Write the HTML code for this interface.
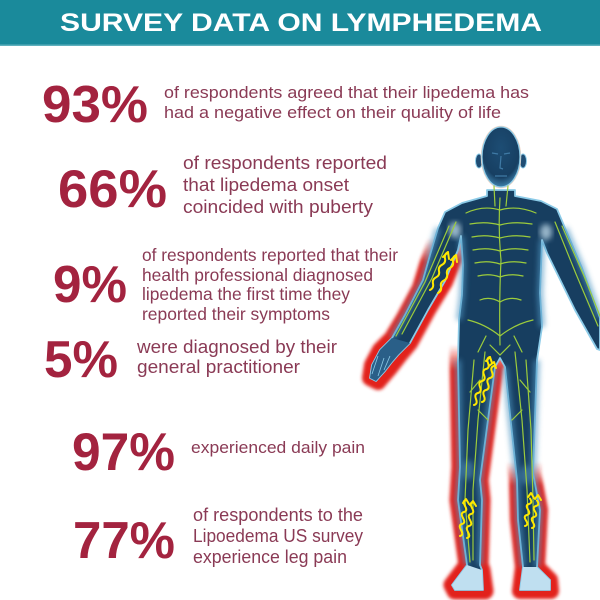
<!DOCTYPE html>
<html><head><meta charset="utf-8">
<style>
html,body{margin:0;padding:0;background:#fff;}
svg{display:block;}
.p{font-family:"Liberation Sans",Arial,sans-serif;font-weight:bold;fill:#a3233f;}
.t{font-family:"Liberation Sans",Arial,sans-serif;fill:#8a3a55;}
</style></head>
<body>
<svg width="600" height="600" viewBox="0 0 600 600" xmlns="http://www.w3.org/2000/svg">
<defs>
  <filter id="blur1" x="-20%" y="-20%" width="140%" height="140%"><feGaussianBlur stdDeviation="1.6"/></filter>
  <filter id="blur3" x="-20%" y="-20%" width="140%" height="140%"><feGaussianBlur stdDeviation="3"/></filter>
  <linearGradient id="fadeA" gradientUnits="userSpaceOnUse" x1="0" y1="238" x2="0" y2="262">
    <stop offset="0" stop-color="#000"/><stop offset="1" stop-color="#fff"/>
  </linearGradient>
  <linearGradient id="fadeL" gradientUnits="userSpaceOnUse" x1="0" y1="345" x2="0" y2="370">
    <stop offset="0" stop-color="#000"/><stop offset="1" stop-color="#fff"/>
  </linearGradient>
  <linearGradient id="fadeR" gradientUnits="userSpaceOnUse" x1="0" y1="462" x2="0" y2="485">
    <stop offset="0" stop-color="#000"/><stop offset="1" stop-color="#fff"/>
  </linearGradient>
  <mask id="mA" maskUnits="userSpaceOnUse" x="0" y="0" width="600" height="600"><rect x="0" y="0" width="600" height="600" fill="url(#fadeA)"/></mask>
  <mask id="mL" maskUnits="userSpaceOnUse" x="0" y="0" width="600" height="600"><rect x="0" y="0" width="600" height="600" fill="url(#fadeL)"/></mask>
  <mask id="mR" maskUnits="userSpaceOnUse" x="0" y="0" width="600" height="600"><rect x="0" y="0" width="600" height="600" fill="url(#fadeR)"/></mask>
  <radialGradient id="headg" cx="0.5" cy="0.35" r="0.7">
    <stop offset="0" stop-color="#1d4d74"/><stop offset="0.7" stop-color="#173f62"/><stop offset="1" stop-color="#4a95c2"/>
  </radialGradient>
</defs>

<!-- header -->
<rect x="0" y="0" width="600" height="46" fill="#1a8a9b"/>
<rect x="0" y="44.5" width="600" height="1.5" fill="#5fb0bd"/>
<text x="60" y="31" font-family="Liberation Sans, Arial, sans-serif" font-weight="bold" font-size="25" fill="#ffffff" textLength="482" lengthAdjust="spacingAndGlyphs">SURVEY DATA ON LYMPHEDEMA</text>

<!-- stats -->
<text class="p" x="42" y="122" font-size="52" textLength="106" lengthAdjust="spacingAndGlyphs">93%</text>
<text class="t" x="164" y="98" font-size="17" textLength="365" lengthAdjust="spacingAndGlyphs">of respondents agreed that their lipedema has</text>
<text class="t" x="164" y="118" font-size="17" textLength="337" lengthAdjust="spacingAndGlyphs">had a negative effect on their quality of life</text>

<text class="p" x="58" y="207" font-size="53" textLength="109" lengthAdjust="spacingAndGlyphs">66%</text>
<text class="t" x="183" y="169" font-size="18" textLength="204" lengthAdjust="spacingAndGlyphs">of respondents reported</text>
<text class="t" x="183" y="191" font-size="18" textLength="166" lengthAdjust="spacingAndGlyphs">that lipedema onset</text>
<text class="t" x="183" y="213" font-size="18" textLength="190" lengthAdjust="spacingAndGlyphs">coincided with puberty</text>

<text class="p" x="53" y="302" font-size="52" textLength="74" lengthAdjust="spacingAndGlyphs">9%</text>
<text class="t" x="142" y="261" font-size="17.5" textLength="256" lengthAdjust="spacingAndGlyphs">of respondents reported that their</text>
<text class="t" x="142" y="281" font-size="17.5" textLength="231" lengthAdjust="spacingAndGlyphs">health professional diagnosed</text>
<text class="t" x="142" y="300" font-size="17.5" textLength="208" lengthAdjust="spacingAndGlyphs">lipedema the first time they</text>
<text class="t" x="142" y="320" font-size="17.5" textLength="188" lengthAdjust="spacingAndGlyphs">reported their symptoms</text>

<text class="p" x="44" y="377" font-size="52" textLength="74" lengthAdjust="spacingAndGlyphs">5%</text>
<text class="t" x="137" y="353" font-size="18" textLength="200" lengthAdjust="spacingAndGlyphs">were diagnosed by their</text>
<text class="t" x="137" y="373" font-size="18" textLength="163" lengthAdjust="spacingAndGlyphs">general practitioner</text>

<text class="p" x="72" y="470" font-size="53" textLength="103" lengthAdjust="spacingAndGlyphs">97%</text>
<text class="t" x="191" y="453" font-size="17" textLength="174" lengthAdjust="spacingAndGlyphs">experienced daily pain</text>

<text class="p" x="73" y="558" font-size="52" textLength="102" lengthAdjust="spacingAndGlyphs">77%</text>
<text class="t" x="193" y="521" font-size="18" textLength="170" lengthAdjust="spacingAndGlyphs">of respondents to the</text>
<text class="t" x="193" y="542" font-size="18" textLength="170" lengthAdjust="spacingAndGlyphs">Lipoedema US survey</text>
<text class="t" x="193" y="563" font-size="18" textLength="154" lengthAdjust="spacingAndGlyphs">experience leg pain</text>

<!-- FIGURE -->
<!-- red swelling glows -->
<g filter="url(#blur1)">
  <g mask="url(#mA)">
  <path d="M438,235 L428,262 L420,288 L404,318 L392,338 L380,350 L372,365 L370,378 L378,382 L390,368 L400,355 L410,343 L428,310 L445,282 L458,250 L461,238 Z" fill="#e2231a" stroke="#e2231a" stroke-width="16" stroke-linejoin="round"/>
  </g>
  <g mask="url(#mL)">
  <path d="M459,330 L458,360 L460,467 L458,500 L467,565 L452,585 L455,591 L485,591 L482,570 L480,565 L482,500 L480,480 L495,367 L500,358 L500,330 Z" fill="#e2231a" stroke="#e2231a" stroke-width="17" stroke-linejoin="round"/>
  </g>
  <g mask="url(#mR)">
  <path d="M505,367 L517,480 L518,520 L523,567 L520,591 L551,591 L550,580 L537,567 L540,510 L533,473 L537,360 Z" fill="#e2231a" stroke="#e2231a" stroke-width="16" stroke-linejoin="round"/>
  </g>
</g>

<!-- body -->
<g id="body">
  <path d="M487,190 L487,196 L462,203 L445,212 L438,228 L430,255 L423,280 L405,315 L392,338 L380,350 L372,365 L370,378 L376,381 L385,371 L392,362 L398,355 L410,343 L428,310 L445,281 L458,250 L461,236 L463,265 L462,295 L459,320 L458,360 L460,467 L458,500 L467,565 L452,585 L455,590 L483,590 L482,570 L480,565 L482,500 L480,480 L495,367 L500,358 L505,367 L517,480 L518,520 L523,567 L520,590 L550,590 L550,580 L537,567 L540,510 L533,473 L537,360 L542,327 L540,293 L542,240 L547,253 L575,310 L597,349 L600,350 L600,318 L582,268 L565,228 L557,209 L541,201 L515,196 L515,190 Z" fill="#173e60" stroke="#8ccbe8" stroke-width="1.8" stroke-linejoin="round"/>
  <ellipse cx="479" cy="161" rx="3.5" ry="7" fill="#1f4d74" stroke="#8ccbe8" stroke-width="1"/>
  <ellipse cx="523" cy="161" rx="3.5" ry="7" fill="#1f4d74" stroke="#8ccbe8" stroke-width="1"/>
  <ellipse cx="501" cy="157" rx="19.5" ry="30.5" fill="none" stroke="#f0d6c6" stroke-width="1.5"/>
  <ellipse cx="501" cy="157" rx="19" ry="30" fill="url(#headg)" stroke="#8ccbe8" stroke-width="1.2"/>
  <!-- face hints -->
  <path d="M492,153 L498,154 M504,154 L510,153 M501,156 L500,168 L503,169 M495,176 L507,176" stroke="#3f7aa5" stroke-width="1.2" fill="none"/>
  <!-- inner glows -->
  <g filter="url(#blur3)" fill="none" stroke="#4f97c3" stroke-width="5" opacity="0.8">
    <path d="M438,228 L430,255 L423,280 L405,315 L392,338"/>
    <path d="M461,236 L463,265 L462,295 L459,320"/>
    <path d="M542,240 L540,293 L542,327"/>
    <path d="M458,360 L460,467 L458,500 L467,565"/>
    <path d="M537,360 L533,473 L540,510 L537,567"/>
    <path d="M495,367 L480,480 L482,500 L480,565"/>
    <path d="M505,367 L517,480 L518,520 L523,567"/>
    <path d="M565,228 L582,268 L600,318"/>
  </g>
  <!-- feet lighter -->
  <path d="M467,565 L452,585 L455,590 L483,590 L482,570 Z" fill="#bfdff0"/>
  <path d="M523,567 L520,590 L550,590 L550,580 L537,567 Z" fill="#bfdff0"/>
  <path d="M392,338 L380,350 L372,365 L370,378 L376,381 L385,371 L392,362 L398,355 L410,343 Z" fill="#2a5f88"/>
  <path d="M378,356 L372,374 M384,358 L378,376 M390,356 L384,370" stroke="#8ccbe8" stroke-width="0.8" fill="none"/>
  <ellipse cx="468" cy="470" rx="6" ry="10" fill="#5b9fc8" opacity="0.5" filter="url(#blur3)"/>
  <ellipse cx="526" cy="475" rx="6" ry="10" fill="#5b9fc8" opacity="0.5" filter="url(#blur3)"/>
  <ellipse cx="455" cy="230" rx="6" ry="8" fill="#cfe9f7" opacity="0.7" filter="url(#blur3)"/>
  <ellipse cx="546" cy="232" rx="6" ry="8" fill="#cfe9f7" opacity="0.7" filter="url(#blur3)"/>
</g>

<!-- lymph network -->
<g fill="none" stroke="#9ccc3c" stroke-width="1.2" stroke-linecap="round">
  <path d="M500,198 Q498,230 501,260 Q499,300 500,345"/>
  <path d="M494,186 L495,206 M508,186 L506,206"/>
  <path d="M466,213 Q483,205 500,210 Q517,205 536,213"/>
  <path d="M470,224 Q486,221 500,225 Q514,221 532,224"/>
  <path d="M472,237 Q486,234 500,238 Q514,234 530,237"/>
  <path d="M473,250 Q487,247 500,251 Q513,247 528,250"/>
  <path d="M475,263 Q488,260 500,264 Q512,260 526,263"/>
  <path d="M478,276 Q489,273 500,277 Q511,273 523,276"/>
  <path d="M480,300 Q490,296 500,302 Q510,296 521,300"/>
  <path d="M468,320 Q485,324 500,336 Q515,324 533,320"/>
  <path d="M486,336 L478,352 M514,336 L522,352 M490,345 L500,355 L510,345"/>
  <path d="M456,222 L432,278 L402,334 M449,226 L425,282 L396,336"/>
  <path d="M555,222 L576,274 L598,326 M562,226 L584,276 L600,316"/>
  <path d="M485,352 L478,420 L473,490 L473,560 M474,360 L468,430 L465,500 L470,562"/>
  <path d="M515,352 L522,420 L527,490 L530,562 M526,360 L531,430 L533,500 L534,560"/>
  <path d="M480,380 L470,392 M520,380 L530,392 M478,410 L488,420 M522,410 L512,420"/>
</g>

<!-- yellow flow arrows -->
<g fill="none" stroke="#ffe800" stroke-width="2" stroke-linecap="round" stroke-linejoin="round">
  <path d="M430,290 q4,-2 3,-6.3 t3,-6.3 t3,-6.3 t3,-6.3 t3,-6.3 t3,-6.3"/>
  <path d="M443,257 L448,252 L449,259"/>
  <path d="M438,293 q4,-2 3,-6.3 t3,-6.3 t3,-6.3 t3,-6.3 t3,-6.3 t3,-6.3"/>
  <path d="M451,260 L456,255 L457,262"/>
  <path d="M474,405 q4,-1 2,-6 t2,-6 t2,-6 t2,-6 t2,-6 t2,-6 t2,-6 t2,-6"/>
  <path d="M486,361 L490,357 L492,363"/>
  <path d="M482,402 q4,-1 2,-6 t2,-6 t2,-6 t2,-6 t2,-6 t2,-6"/>
  <path d="M489,366 L494,362 L496,368"/>
  <path d="M460,536 q4,-1 1,-6 t1,-6 t1,-6 t1,-6 t1,-6 t1,-6"/>
  <path d="M463,503 L466,499 L469,504"/>
  <path d="M467,538 q4,-1 1,-6 t1,-6 t1,-6 t1,-6 t1,-6 t1,-6"/>
  <path d="M470,505 L473,501 L476,506"/>
  <path d="M525,526 q4,-1 1,-5.5 t1,-5.5 t1,-5.5 t1,-5.5 t1,-5.5"/>
  <path d="M528,497 L531,493 L534,498"/>
  <path d="M532,528 q4,-1 1,-5.5 t1,-5.5 t1,-5.5 t1,-5.5 t1,-5.5"/>
  <path d="M535,499 L538,495 L541,500"/>
</g>
</svg>
</body></html>
